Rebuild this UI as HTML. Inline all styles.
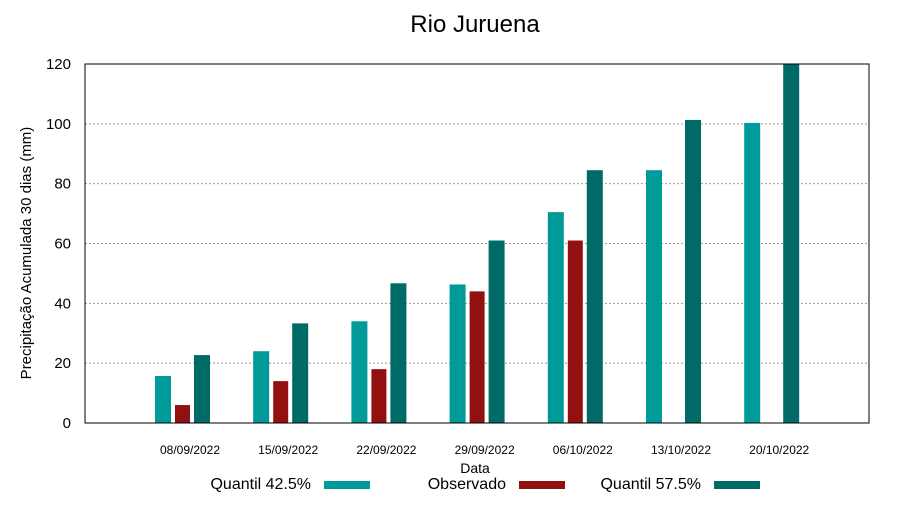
<!DOCTYPE html>
<html><head><meta charset="utf-8"><style>
body{margin:0;background:#fff;font-family:"Liberation Sans",sans-serif}
</style></head><body>
<svg width="900" height="500" xmlns="http://www.w3.org/2000/svg" style="font-family:'Liberation Sans',sans-serif">
<text x="475" y="32" text-anchor="middle" font-size="24">Rio Juruena</text>
<g id="grid"></g>
<g id="bars"></g>
<rect x="85" y="64" width="784" height="359" fill="none" stroke="#000" stroke-width="1"/>
<g id="yt"></g>
<g id="xt"></g>
<text transform="translate(31,253) rotate(-90)" text-anchor="middle" font-size="15">Precipitação Acumulada 30 dias (mm)</text>
<text x="475" y="473" text-anchor="middle" font-size="14">Data</text>
<g>
<text x="311" y="489" text-anchor="end" font-size="16">Quantil 42.5%</text>
<rect x="324" y="481" width="46" height="8" fill="#009a98"/>
<text x="506" y="489" text-anchor="end" font-size="16">Observado</text>
<rect x="519" y="481" width="46" height="8" fill="#921010"/>
<text x="701" y="489" text-anchor="end" font-size="16">Quantil 57.5%</text>
<rect x="714" y="481" width="46" height="8" fill="#006a66"/>
</g>
</svg>
<script>
const categories=["08/09/2022","15/09/2022","22/09/2022","29/09/2022","06/10/2022","13/10/2022","20/10/2022"];
const q425=[15.7,24,34,46.3,70.5,84.5,100.3];
const observado=[6,14,18,44,61,null,null];
const q575=[22.7,33.3,46.7,61,84.5,101.3,120];
const yTicks=[0,20,40,60,80,100,120];
const NS="http://www.w3.org/2000/svg";
const y0=423,y1=64,ymax=120;
const ys=v=>y0-(v/ymax)*(y0-y1);
const xc=i=>190+i*98.2;
const grid=document.getElementById('grid'),bars=document.getElementById('bars'),yt=document.getElementById('yt'),xt=document.getElementById('xt');
yTicks.forEach(t=>{
 if(t>0&&t<ymax){const l=document.createElementNS(NS,'line');
 l.setAttribute('x1',85);l.setAttribute('x2',869);l.setAttribute('y1',ys(t));l.setAttribute('y2',ys(t));
 l.setAttribute('stroke','#999');l.setAttribute('stroke-dasharray','2,2');
 
 
 grid.appendChild(l);}
 const tx=document.createElementNS(NS,'text');
 tx.setAttribute('x',71);tx.setAttribute('y',ys(t)+5);tx.setAttribute('text-anchor','end');tx.setAttribute('font-size','15');
 tx.textContent=t;
 
 
 yt.appendChild(tx);
});
const series=[[q425,'#009a98',-35,16,'q425'],[observado,'#921010',-15,15,'observado'],[q575,'#006a66',4,16,'q575']];
categories.forEach((c,i)=>{
 const tx=document.createElementNS(NS,'text');
 tx.setAttribute('x',xc(i));tx.setAttribute('y',454);tx.setAttribute('text-anchor','middle');tx.setAttribute('font-size','12');
 tx.textContent=c;
 
 
 xt.appendChild(tx);
 series.forEach(s=>{
  const v=s[0][i]; if(v==null)return;
  const r=document.createElementNS(NS,'rect');
  r.setAttribute('x',xc(i)+s[2]);r.setAttribute('width',s[3]);
  r.setAttribute('y',ys(v));r.setAttribute('height',y0-ys(v));r.setAttribute('fill',s[1]);
  
  
  bars.appendChild(r);
 });
});
</script>
</body></html>
